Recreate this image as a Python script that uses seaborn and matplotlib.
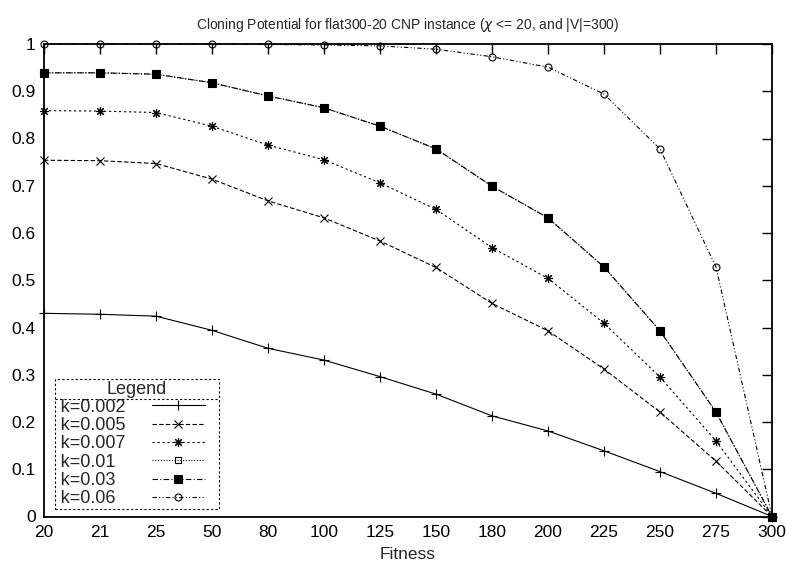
import matplotlib
matplotlib.use("Agg")
import matplotlib.pyplot as plt
import seaborn as sns
import pandas as pd
import numpy as np
from matplotlib.lines import Line2D

fitness = ["20", "21", "25", "50", "80", "100", "125", "150", "180", "200", "225", "250", "275", "300"]
k0002 = [0.430, 0.428, 0.424, 0.394, 0.356, 0.331, 0.296, 0.259, 0.213, 0.181, 0.139, 0.095, 0.049, 0.0]
k0005 = [0.754, 0.753, 0.747, 0.714, 0.668, 0.632, 0.583, 0.527, 0.451, 0.393, 0.312, 0.221, 0.117, 0.0]
k0007 = [0.859, 0.858, 0.855, 0.826, 0.786, 0.755, 0.706, 0.650, 0.569, 0.504, 0.409, 0.295, 0.160, 0.0]
k001 = [0.939, 0.939, 0.936, 0.918, 0.890, 0.865, 0.826, 0.778, 0.699, 0.632, 0.528, 0.393, 0.221, 0.0]
k003 = [0.939, 0.939, 0.936, 0.918, 0.890, 0.865, 0.826, 0.778, 0.699, 0.632, 0.528, 0.393, 0.221, 0.0]
k006 = [1.0, 1.0, 1.0, 1.0, 0.999, 0.998, 0.996, 0.989, 0.973, 0.951, 0.894, 0.778, 0.528, 0.0]

series_labels = ["k=0.002", "k=0.005", "k=0.007", "k=0.01", "k=0.03", "k=0.06"]
series_values = [k0002, k0005, k0007, k001, k003, k006]

sns.set_theme(style="white")
plt.rcParams['font.family'] = ['Liberation Sans', 'DejaVu Sans']

styles = {
    "k=0.002": dict(ls="-", marker="+", ms=7, mfc="black"),
    "k=0.005": dict(ls=(0, (4, 2)), marker="x", ms=5.5, mfc="black"),
    "k=0.007": dict(ls=(0, (2, 2.5)), marker=(8, 2, 0), ms=6.5, mfc="black"),
    "k=0.01": dict(ls=(0, (1, 1.5)), marker="s", ms=5, mfc="none"),
    "k=0.03": dict(ls=(0, (5, 2, 1, 2)), marker="s", ms=6, mfc="black"),
    "k=0.06": dict(ls=(0, (4, 2, 1, 2, 1, 2)), marker="o", ms=5, mfc="none"),
}

fig = plt.figure(figsize=(7.87, 5.72), dpi=100)
ax = fig.add_axes([44/787, 1-516.5/572, (772-44)/787, (516.5-44)/572])

pos = np.arange(len(fitness))
handles = []
for lab, vals in zip(series_labels, series_values):
    df = pd.DataFrame({"pos": pos, "val": vals})
    st = styles[lab]
    sns.lineplot(data=df, x="pos", y="val", ax=ax, color="black", lw=0.8,
                 linestyle=st["ls"], marker=st["marker"], markersize=st["ms"],
                 markerfacecolor=st["mfc"], markeredgecolor="black", markeredgewidth=0.8,
                 clip_on=False, zorder=3)
    handles.append(Line2D([0], [0], color="black", lw=0.8, linestyle=st["ls"],
                          marker=st["marker"], markersize=st["ms"],
                          markerfacecolor=st["mfc"], markeredgecolor="black",
                          markeredgewidth=0.8))

ax.set_xlim(0, len(fitness) - 1)
ax.set_ylim(0, 1)
ax.set_xticks(pos)
ax.set_xticklabels(fitness)
yt = np.round(np.arange(0, 1.01, 0.1), 1)
ax.set_yticks(yt)
ax.set_yticklabels(["0"] + [f"{v:g}" for v in yt[1:-1]] + ["1"])
ax.tick_params(direction="in", top=True, right=True, length=7, width=1,
               labelsize=12.5, colors="black", pad=6)
for s in ax.spines.values():
    s.set_color("black")
    s.set_linewidth(1.3)
ax.set_xlabel("Fitness", fontsize=12.5, labelpad=5)
ax.set_ylabel("")
ax.set_title("Cloning Potential for flat300-20 CNP instance ($\\chi$ <= 20, and |V|=300)",
             fontsize=10, pad=11)

# legend: labels on the left, sample line on the right; pad shorter labels with figure spaces
maxlen = max(len(l) for l in series_labels)
leg_labels = ["\u2009" + l + "\u2007" * (maxlen - len(l)) for l in series_labels]
leg = ax.legend(handles, leg_labels, title="Legend", loc="lower left",
                bbox_to_anchor=(0.015, 0.016, (219 - 55) / 728, 0.2), mode="expand",
                markerfirst=False, handlelength=2.9,
                fontsize=13, title_fontsize=13, frameon=True, fancybox=False,
                borderpad=0.1, labelspacing=0.07, handletextpad=1.5, borderaxespad=0,
                numpoints=1)
fr = leg.get_frame()
fr.set_edgecolor("black")
fr.set_linestyle((0, (2, 2)))
fr.set_linewidth(0.8)
fr.set_facecolor("white")
fr.set_alpha(1)
leg.set_zorder(5)

fig.canvas.draw()
lb = leg.get_window_extent()
tb = leg.get_title().get_window_extent()
yline = tb.y0 - 1
inv = fig.transFigure.inverted()
p0 = inv.transform((lb.x0, yline))
p1 = inv.transform((lb.x1, yline))
fig.add_artist(Line2D([p0[0], p1[0]], [p0[1], p1[1]], color="black", lw=0.8,
                      linestyle=(0, (2, 2)), zorder=10))

fig.savefig("out.png", dpi=100)
